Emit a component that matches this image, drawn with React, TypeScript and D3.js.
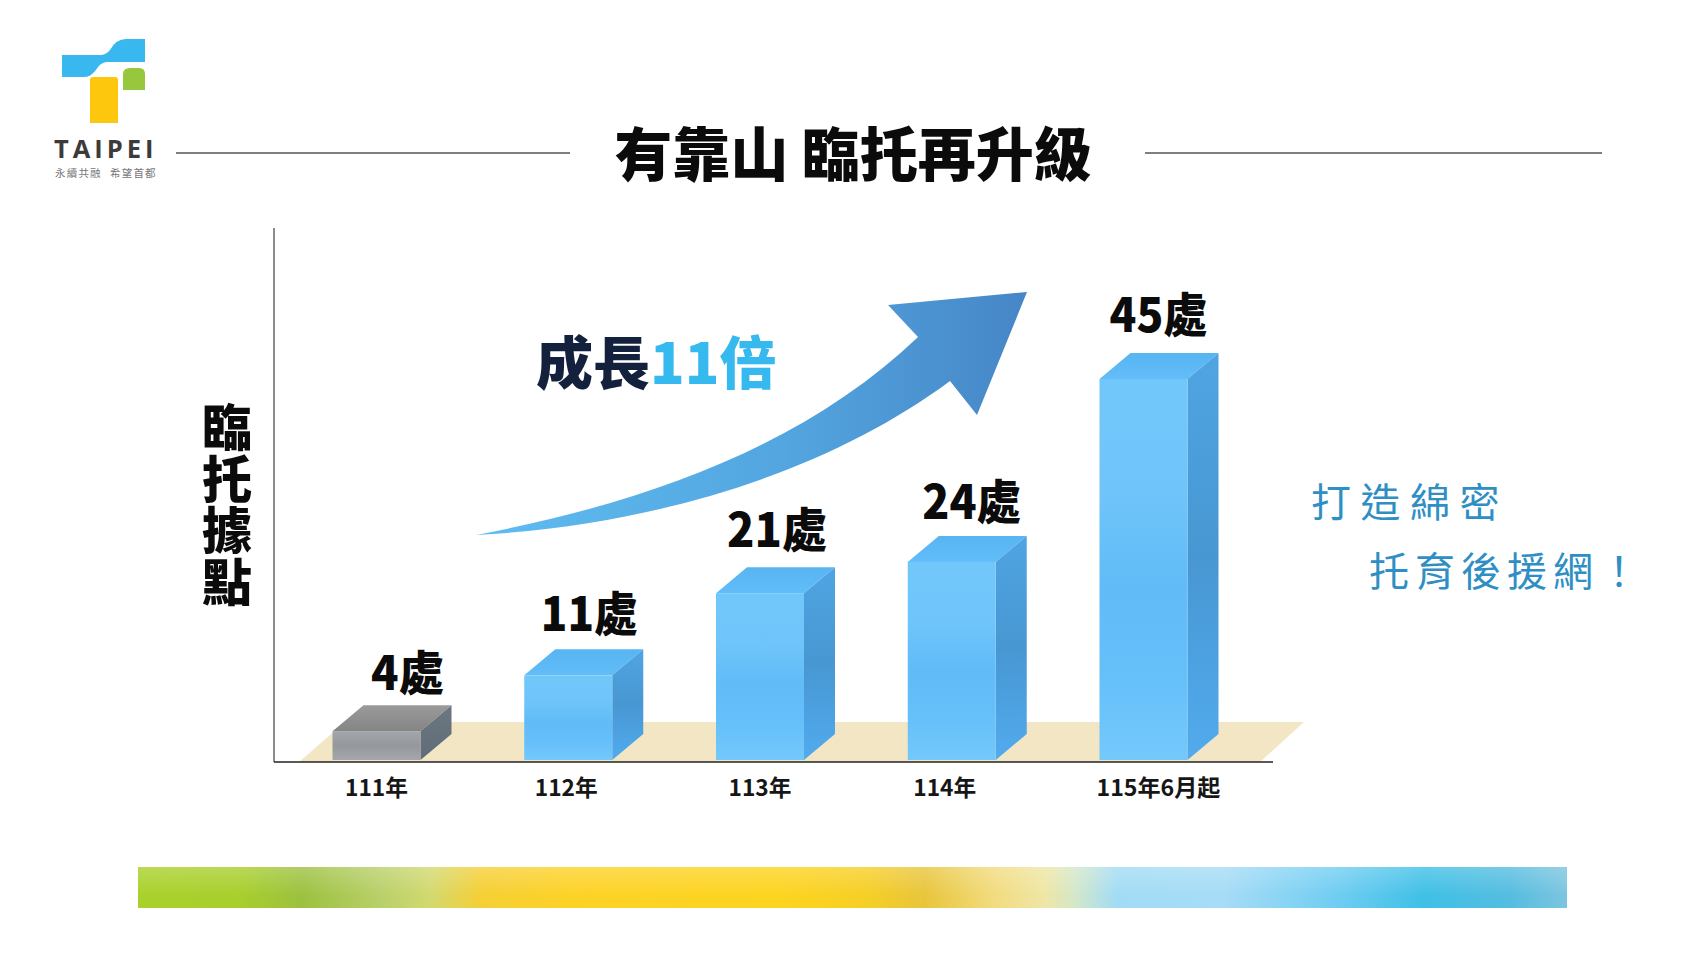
import React from "react";
import * as d3 from "d3";

const categories = ["111年", "112年", "113年", "114年", "115年6月起"];
const valueLabels = ["4處", "11處", "21處", "24處", "45處"];
// visual bar heights, in 處
const barHeights = [3.4, 10, 19.7, 23.4, 45];
const barKinds = ["grey", "blue", "blue", "blue", "blue"];
const handLines = ["打造綿密", "托育後援網！"];
const yLabel = "臨托據點";

const W = 1706, H = 960;
const CJK = "'Noto Sans CJK TC','Noto Sans CJK SC',sans-serif";
const axisLeft = 274, axisBottom = 762, axisRight = 1273, axisTop = 228;
const barWidth = 88, depthX = 31, depthY = 26;
const labelDx = [31, 21, 17, 20, 15];
const labelDy = [36, 39, 41, 37, 42];
const labelW = [73, 97, 100, 99, 98];
const tickDx = [0, -2, 0, -7, 15];
const tickW = [63, 63, 63, 63, 124];

const x = d3.scalePoint<string>().domain(categories).range([376.5, 1143.5]);
const y = d3.scaleLinear().domain([0, 45]).range([760, 379]);

const arrowPath = (() => {
  const p = d3.path();
  p.moveTo(476, 535);
  p.bezierCurveTo(660, 500, 810, 440, 918, 337);
  p.lineTo(888, 305);
  p.lineTo(1027, 292);
  p.lineTo(977, 415);
  p.lineTo(950, 381);
  p.bezierCurveTo(830, 470, 660, 525, 476, 535);
  p.closePath();
  return p.toString();
})();

const stripStops: [number, string][] = [
  [0, "#a9d12b"], [0.07, "#a8cf2c"], [0.115, "#9cc13f"], [0.17, "#b9d06a"], [0.205, "#d3d96f"],
  [0.24, "#f5cf35"], [0.3, "#fdd227"], [0.45, "#fdd41f"], [0.51, "#f6cf26"], [0.55, "#e8c53b"],
  [0.6, "#f2dc80"], [0.635, "#efe6a6"], [0.655, "#d4e8c8"], [0.685, "#a2dcf4"], [0.76, "#a6dcf6"],
  [0.84, "#6fcdf2"], [0.9, "#3fc0e6"], [0.96, "#55bde0"], [1, "#7cc5df"],
];

function Gradient({ id, stops, horizontal }: { id: string; stops: [number, string][]; horizontal?: boolean }) {
  return (
    <linearGradient id={id} x1="0" y1="0" x2={horizontal ? "1" : "0"} y2={horizontal ? "0" : "1"}>
      {stops.map(([o, c]) => <stop key={o} offset={o} stopColor={c} />)}
    </linearGradient>
  );
}

export default function App() {
  return (
    <svg width={W} height={H} viewBox={`0 0 ${W} ${H}`} style={{ position: "absolute", left: 0, top: 0, background: "#fff" }}>
      <defs>
        <Gradient id="front" stops={[[0, "#72c7fa"], [0.3, "#6fc5fa"], [0.55, "#60bbf7"], [0.8, "#66c0fa"], [1, "#74c9fb"]]} />
        <Gradient id="side" stops={[[0, "#4fa5e2"], [0.5, "#4797d2"], [1, "#52abee"]]} />
        <Gradient id="top" stops={[[0, "#57b5f2"], [1, "#62bdf8"]]} />
        <Gradient id="gfront" stops={[[0, "#a3a7ab"], [0.5, "#94989c"], [1, "#a4a8ac"]]} />
        <Gradient id="gside" stops={[[0, "#6b7680"], [1, "#5f6d78"]]} />
        <Gradient id="gtop" stops={[[0, "#9a9a9a"], [1, "#858585"]]} />
        <linearGradient id="arrow" gradientUnits="userSpaceOnUse" x1={476} y1={0} x2={1027} y2={0}>
          <stop offset={0} stopColor="#5fbcf0" />
          <stop offset={0.55} stopColor="#53a6e0" />
          <stop offset={1} stopColor="#4686c6" />
        </linearGradient>
        <Gradient id="strip" horizontal stops={stripStops} />
        <linearGradient id="stripSheen" x1="0" y1="0" x2="0" y2="1">
          <stop offset={0} stopColor="#fff" stopOpacity={0.2} />
          <stop offset={0.7} stopColor="#fff" stopOpacity={0} />
        </linearGradient>
      </defs>

      {/* logo */}
      <path d="M62 55 H100 Q106 55 110 50 Q116 39 126 39 H145 V62 H108 Q102 62 98 67 Q92 77 84 77 H62 Z" fill="#39b8ef" />
      <path d="M90 80 Q90 77 93 77 H115 Q118 77 118 80 V123 H90 Z" fill="#fdc70e" />
      <path d="M123 90 V74 Q123 68 130 68 H139 Q145 68 145 74 V90 Z" fill="#96c73d" />
      <text x={54} y={148} dominantBaseline="central" fontFamily="'Open Sans',sans-serif" fontWeight={700} fontSize={25.5} letterSpacing={4} fill="#3d3a3a">TAIPEI</text>
      <text x={55} y={172} dominantBaseline="central" fontFamily={CJK} fontSize={10.5} letterSpacing={1.2} fill="#77777a">永續共融</text>
      <text x={110} y={172} dominantBaseline="central" fontFamily={CJK} fontSize={10.5} letterSpacing={1.2} fill="#77777a">希望首都</text>

      {/* title */}
      <line x1={176} x2={570} y1={153} y2={153} stroke="#555" strokeWidth={1.5} />
      <line x1={1145} x2={1602} y1={153} y2={153} stroke="#555" strokeWidth={1.5} />
      <text x={853} y={151} textAnchor="middle" dominantBaseline="central" fontFamily={CJK} fontWeight={900} fontSize={58} fill="#0b0b0b">有靠山 臨托再升級</text>

      {/* floor */}
      <path d={`M299 ${axisBottom} L345 722 H1304 L1260 ${axisBottom} Z`} fill="#f3e6c4" />

      {/* axes */}
      <line x1={axisLeft} x2={axisLeft} y1={axisTop} y2={axisBottom} stroke="#666" strokeWidth={1.5} />
      <line x1={axisLeft} x2={axisRight} y1={axisBottom} y2={axisBottom} stroke="#222" strokeWidth={1.5} />

      {/* y label */}
      <text x={227} y={402} fontFamily={CJK} fontWeight={900} fontSize={50} letterSpacing={1.5} fill="#0b0b0b"
        style={{ writingMode: "vertical-rl", textOrientation: "upright" }}>{yLabel}</text>

      {/* bars */}
      {categories.map((c, i) => {
        const cx = x(c)!;
        const l = cx - barWidth / 2, r = cx + barWidth / 2;
        const t = y(barHeights[i]), b = y(0);
        const g = barKinds[i] === "grey";
        return (
          <g key={c}>
            <path d={`M${l} ${t} L${l + depthX} ${t - depthY} H${r + depthX} L${r} ${t} Z`} fill={g ? "url(#gtop)" : "url(#top)"} />
            <path d={`M${r} ${t} L${r + depthX} ${t - depthY} V${b - depthY} L${r} ${b} Z`} fill={g ? "url(#gside)" : "url(#side)"} />
            <rect x={l} y={t} width={barWidth} height={b - t} fill={g ? "url(#gfront)" : "url(#front)"} />
            <text x={cx + labelDx[i]} y={t - depthY - labelDy[i]} textAnchor="middle" dominantBaseline="central"
              fontFamily={CJK} fontWeight={900} fontSize={47} textLength={labelW[i]} lengthAdjust="spacingAndGlyphs" fill="#0b0b0b">{valueLabels[i]}</text>
            <text x={cx + tickDx[i]} y={786} textAnchor="middle" dominantBaseline="central"
              fontFamily={CJK} fontWeight={700} fontSize={23} textLength={tickW[i]} lengthAdjust="spacingAndGlyphs" fill="#161616">{c}</text>
          </g>
        );
      })}

      {/* arrow */}
      <path d={arrowPath} fill="url(#arrow)" />
      <text x={536} y={359} dominantBaseline="central" fontFamily={CJK} fontWeight={900} fontSize={57} fill="#14213d">
        成長<tspan fill="#35b9ee">11倍</tspan>
      </text>

      {/* handwriting note */}
      <text x={1311} y={500} dominantBaseline="central" fontFamily={CJK} fontWeight={400} fontSize={40} letterSpacing={9.5} fill="#2f8fc4">{handLines[0]}</text>
      <text x={1369} y={569} dominantBaseline="central" fontFamily={CJK} fontWeight={400} fontSize={40} letterSpacing={6} fill="#2f8fc4">{handLines[1]}</text>

      {/* bottom strip */}
      <rect x={138} y={867} width={1429} height={41} fill="url(#strip)" />
      <rect x={138} y={867} width={1429} height={41} fill="url(#stripSheen)" />
    </svg>
  );
}
